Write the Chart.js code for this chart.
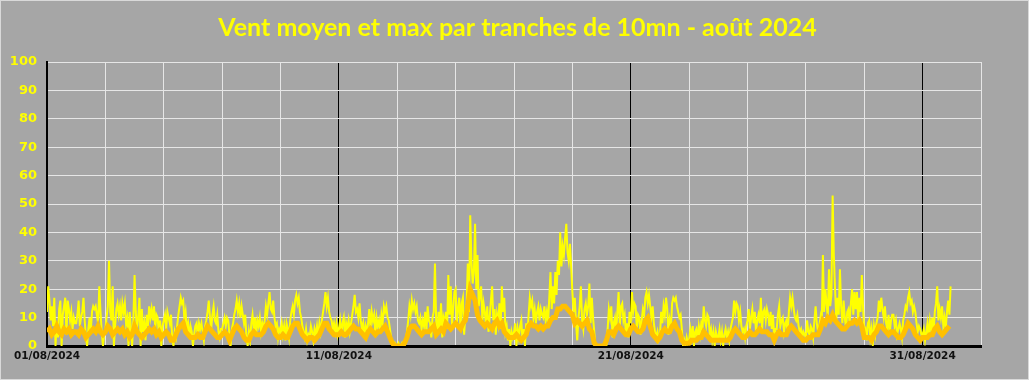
<!DOCTYPE html>
<html lang="fr">
<head>
<meta charset="utf-8">
<title>Vent moyen et max - août 2024</title>
<script src="https://cdn.jsdelivr.net/npm/chart.js@4.4.1/dist/chart.umd.min.js"></script>
<style>
    html, body { margin: 0; padding: 0; background: #a6a6a6; }
    canvas { display: block; }
</style>
</head>
<body>
<canvas id="chartVent" width="1029" height="380"></canvas>
<script>
// --- 1. DONNEES ---
const chartTitle = 'Vent moyen et max par tranches de 10mn - août 2024';

// jours de ticks (0 = 01/08) et libelles
const tickDays = [0, 10, 20, 30];
const tickLabels = ['01/08/2024', '11/08/2024', '21/08/2024', '31/08/2024'];
const yTicks = [0, 10, 20, 30, 40, 50, 60, 70, 80, 90, 100];

// vent max, une valeur par heure (24 par jour)
const windMax = [
    12,21,16,9,14,7,17,0,8,3,13,16,0,11,14,17,4,16,13,9,12,6,10,8,
    8,11,16,7,10,12,17,9,3,0,6,10,5,12,14,13,14,11,8,21,12,5,0,4,
    6,10,14,30,12,9,21,0,7,13,15,11,14,9,15,12,15,8,10,0,12,6,0,9,
    25,12,6,10,17,0,13,5,8,2,11,7,14,10,13,9,14,6,11,10,4,9,0,7,
    9,11,6,12,10,8,11,2,0,5,3,7,11,14,17,15,16,9,12,6,8,3,7,5,
    0,4,7,8,3,8,6,8,5,2,7,9,12,16,10,6,11,14,9,8,11,5,3,6,
    6,8,10,7,10,9,4,0,6,8,11,13,16,12,15,10,14,11,8,11,3,0,5,2,
    8,11,6,10,4,9,7,10,5,8,6,9,14,11,15,19,13,12,16,10,7,8,3,6,
    5,8,4,7,2,8,6,3,9,12,14,11,16,18,15,17,12,10,7,5,3,6,2,4,
    3,7,5,2,6,4,7,3,8,5,9,12,15,19,14,17,12,10,9,6,8,5,8,4,
    6,9,4,8,10,3,8,6,9,5,8,11,14,18,12,13,10,15,9,6,8,3,7,5,
    8,13,6,12,9,11,4,10,7,9,5,11,8,14,12,14,10,9,6,3,1,0,1,0,
    0,1,0,0,1,0,0,2,5,9,14,11,16,13,15,12,14,9,8,10,6,9,7,12,
    5,14,9,8,3,10,12,29,9,4,12,6,15,3,10,8,12,6,25,11,21,7,13,19,
    20,8,13,17,6,15,17,4,11,14,29,12,46,30,22,26,43,20,32,14,18,21,9,15,
    12,7,14,5,10,16,21,9,13,4,11,8,15,6,21,12,17,5,7,2,6,0,5,3,
    5,8,0,6,3,7,9,2,6,0,8,4,11,17,14,16,10,13,8,12,14,9,13,11,
    10,14,9,12,8,17,26,13,21,15,26,18,30,25,40,28,35,32,38,43,33,30,36,28,
    19,12,17,8,2,10,14,21,9,6,13,15,11,14,22,8,17,10,5,0,0,0,0,0,
    0,0,0,1,0,6,13,10,14,3,8,10,5,12,19,7,14,15,9,11,4,8,3,12,
    8,19,12,15,14,6,11,10,4,9,13,11,17,19,15,18,14,10,14,8,5,3,5,2,
    3,12,8,14,11,17,13,4,9,6,15,17,16,17,14,12,10,11,6,0,2,0,3,1,
    2,6,3,7,0,5,6,2,7,4,8,6,14,9,7,11,10,4,6,2,5,0,5,3,
    3,6,2,5,0,4,6,3,5,2,6,8,10,16,12,15,14,9,12,7,5,6,3,7,
    9,13,6,10,13,8,12,5,9,11,8,17,6,12,13,9,13,11,7,12,6,11,2,6,
    6,11,14,7,9,10,5,8,9,4,12,17,14,17,13,10,9,11,7,5,6,3,5,4,
    3,9,5,4,7,6,3,9,14,8,5,7,10,6,32,12,20,15,10,27,14,18,53,32,
    20,9,17,11,27,14,8,16,10,6,12,13,8,15,20,11,19,13,19,9,17,12,25,14,
    5,6,2,8,9,3,6,0,7,4,8,10,16,12,17,13,10,14,8,6,11,5,9,11,
    11,7,9,4,6,8,6,3,9,11,14,13,17,19,15,16,12,14,12,8,5,7,6,4,
    4,6,2,5,8,3,9,6,10,4,12,15,21,9,13,10,14,7,10,6,12,16,11,21
];

// vent moyen, une valeur toutes les 2 heures (12 par jour)
const windMean = [
    5,6,4,5,7,5,4,6,5,6,4,5,
    5,4,6,5,3,4,5,6,5,7,5,4,
    5,7,6,4,5,6,5,6,4,5,3,4,
    7,5,4,3,4,5,6,5,6,4,5,3,
    4,5,4,2,2,4,6,7,8,5,4,3,
    3,3,4,3,3,5,7,6,5,4,3,3,
    4,5,4,2,4,6,7,6,5,3,2,2,
    4,5,4,4,4,5,7,8,7,6,4,3,
    3,4,3,3,5,7,8,8,6,4,3,2,
    3,3,2,3,4,6,8,8,6,5,4,4,
    4,5,4,4,5,6,7,6,6,5,4,3,
    5,6,5,4,5,5,6,7,5,3,1,0,
    0,0,0,1,3,6,7,7,6,5,4,5,
    5,5,6,7,4,5,6,5,8,7,6,7,
    8,7,6,8,9,14,20,18,16,11,9,8,
    7,8,7,6,8,9,7,8,5,4,3,3,
    3,4,3,2,3,4,7,8,7,7,6,7,
    6,7,7,9,10,10,13,13,14,14,13,12,
    11,8,9,8,7,8,9,6,5,1,0,0,
    0,0,2,5,5,4,6,7,6,5,4,4,
    6,7,6,5,5,6,9,10,7,4,3,2,
    3,5,6,5,5,7,8,6,5,2,1,1,
    1,2,2,2,3,3,5,4,3,2,2,2,
    2,2,2,2,2,3,5,6,5,4,3,3,
    4,5,4,4,5,6,5,5,5,4,4,2,
    4,5,4,4,4,6,7,6,5,4,3,2,
    2,3,3,4,4,4,6,9,8,10,9,11,
    9,8,7,6,6,7,8,8,9,8,9,7,
    3,3,3,2,4,5,7,7,6,5,4,5,
    5,4,3,3,4,6,8,7,6,4,3,2,
    3,3,3,4,4,6,7,5,4,5,6,7
];

// --- 2. PLUGIN FOND GRIS + CADRE + TITRE (centre sur toute la largeur) ---
const fondPlugin = {
    id: 'fond',
    beforeDraw(chart) {
        const c = chart.ctx;
        c.save();
        c.fillStyle = '#a6a6a6';
        c.fillRect(0, 0, chart.width, chart.height);
        c.strokeStyle = '#d9d9d9';
        c.lineWidth = 1;
        c.strokeRect(0.5, 0.5, chart.width - 1, chart.height - 1);
        c.fillStyle = '#ffff00';
        c.font = 'bold 25px Lato';
        c.textAlign = 'center';
        c.textBaseline = 'middle';
        c.fillText(chartTitle, chart.width / 2 + 3, 28);
        c.restore();
    }
};

// --- 3. GRAPHIQUE ---
const ptsMax = windMax.map((v, i) => ({ x: i / 24, y: v }));
const ptsMean = windMean.map((v, i) => ({ x: i / 12, y: v }));

new Chart(document.getElementById('chartVent'), {
    type: 'line',
    data: {
        datasets: [
            { label: 'Vent moyen', data: ptsMean, borderColor: '#ffc000', borderWidth: 5, pointRadius: 0, tension: 0 },
            { label: 'Vent max', data: ptsMax, borderColor: '#ffff00', borderWidth: 2, pointRadius: 0, tension: 0 }
        ]
    },
    options: {
        responsive: false,
        animation: false,
        layout: { padding: { left: 0, right: 48, top: 62, bottom: 0 } },
        plugins: {
            legend: { display: false },
            tooltip: { enabled: false },
            title: { display: false }
        },
        scales: {
            x: {
                type: 'linear',
                min: 0,
                max: 32,
                afterFit: s => { s.height = 34; },
                afterBuildTicks: s => { s.ticks = []; for (let d = 0; d <= 32; d += 2) s.ticks.push({ value: d }); },
                ticks: {
                    autoSkip: false,
                    maxRotation: 0,
                    padding: 4,
                    color: '#111111',
                    font: { family: 'DejaVu Sans', size: 10.5, weight: 'bold' },
                    callback: v => { const k = tickDays.indexOf(v); return k >= 0 ? tickLabels[k] : ''; }
                },
                grid: {
                    drawTicks: false,
                    lineWidth: 1,
                    color: c => (c.tick && c.tick.value % 10 === 0 && c.tick.value > 0 && c.tick.value < 32) ? '#000000' : '#e6e6e6'
                },
                border: { color: '#000000', width: 3 }
            },
            y: {
                min: 0,
                max: 100,
                afterFit: s => { s.width = 47; },
                afterBuildTicks: s => { s.ticks = yTicks.map(v => ({ value: v })); },
                ticks: {
                    padding: 10,
                    color: '#ffff00',
                    font: { family: 'DejaVu Sans', size: 13, weight: 'bold' }
                },
                grid: { drawTicks: false, color: '#e6e6e6', lineWidth: 1 },
                border: { color: '#000000', width: 2 }
            }
        }
    },
    plugins: [fondPlugin]
});
</script>
</body>
</html>
